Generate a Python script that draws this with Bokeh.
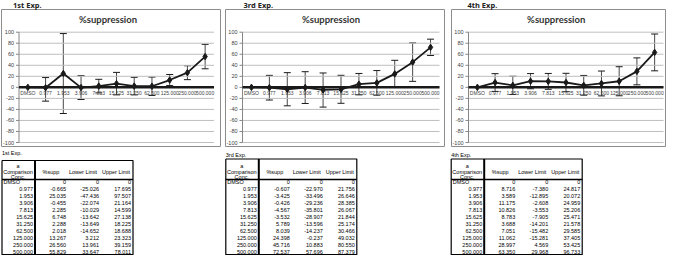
from bokeh.plotting import figure
from bokeh.models import ColumnDataSource, Range1d, Whisker, TeeHead
from bokeh.layouts import row, column
from bokeh.embed import file_html
from bokeh.resources import INLINE
from bokeh.core.properties import value

# ---------------- data ----------------
categories = ["DMSO", "0.977", "1.953", "3.906", "7.813", "15.625",
              "31.250", "62.500", "125.000", "250.000", "500.000"]
exp_names = ["1st Exp.", "3rd Exp.", "4th Exp."]
chart_title = "%suppression"
y_ticks = [-100, -80, -60, -40, -20, 0, 20, 40, 60, 80, 100]
table_col_headers = ["%supp", "Lower Limit", "Upper Limit"]
conc_header_lines = ["a", "Comparison", "Conc."]

supp_1st = [0, -0.665, 25.035, -0.455, 2.285, 6.748, 2.288, 2.018, 13.267, 26.560, 55.829]
lower_1st = [0, -25.026, -47.436, -22.074, -10.029, -13.642, -13.649, -14.652, 3.212, 13.961, 33.647]
upper_1st = [0, 17.695, 97.507, 21.164, 14.599, 27.138, 18.225, 18.688, 23.323, 39.159, 78.011]

supp_3rd = [0, -0.607, -3.425, -0.426, -4.567, -3.532, 5.789, 8.039, 24.398, 45.716, 72.537]
lower_3rd = [0, -22.970, -33.496, -29.236, -35.801, -28.907, -13.596, -14.237, -0.237, 10.883, 57.696]
upper_3rd = [0, 21.756, 26.646, 28.385, 26.067, 21.844, 25.174, 30.466, 49.032, 80.550, 87.379]

supp_4th = [0, 8.716, 3.589, 11.175, 10.826, 8.783, 3.688, 7.051, 11.062, 28.997, 63.350]
lower_4th = [0, -7.380, -12.895, -2.608, -3.553, -7.905, -14.201, -15.482, -15.281, 4.569, 29.968]
upper_4th = [0, 24.817, 20.072, 24.959, 25.206, 25.471, 21.578, 29.585, 37.405, 53.425, 96.733]

# ---------------- chart layout (pixel geometry inside each chart figure) ----------------
CH_H = 148
BOX_TOP, BOX_BOT = 9, 146          # chart border box
PA_TOP, PA_BOT = 31.7, 142.0       # pixel rows of y = 100 and y = -100
TITLE_Y = 19
NAME_Y = 4
ink = "#1a1a1a"
grey_txt = "#404040"


def make_chart(name, supp, lower, upper, W, box_l, box_r, pa_l, pa_w, name_x, title_cx):
    n = len(categories)
    idx = list(range(n))
    s = pa_w / n                                   # pixels per category
    k = 200.0 / (PA_BOT - PA_TOP)                  # data units per pixel (y)

    def X(px):
        return -0.5 + (px - pa_l) / s

    def Y(py):
        return 100 - (py - PA_TOP) * k

    src = ColumnDataSource(dict(x=idx, y=supp, lower=lower, upper=upper))
    p = figure(width=W, height=CH_H, x_range=Range1d(X(0), X(W)),
               y_range=Range1d(Y(CH_H), Y(0)), x_axis_location=None, y_axis_location=None,
               min_border=0, output_backend="svg", toolbar_location=None,
               outline_line_color=None,
               background_fill_color="white", border_fill_color="white")
    p.extra_x_ranges = {"px": Range1d(0, W)}
    p.extra_y_ranges = {"px": Range1d(CH_H, 0)}
    p.grid.visible = False

    # chart border box
    p.quad(left=[box_l], right=[box_r], top=[BOX_TOP], bottom=[BOX_BOT],
           x_range_name="px", y_range_name="px",
           fill_color=None, line_color="#8c8c8c", line_width=1)

    # gridlines (with short outward tick at the value axis)
    nt = len(y_ticks)
    p.segment(x0=[-0.5] * nt, x1=[n - 0.5] * nt, y0=y_ticks, y1=y_ticks,
              line_color="#bfbfbf", line_width=1)
    p.segment(x0=[X(pa_l - 3)] * nt, x1=[-0.5] * nt, y0=y_ticks, y1=y_ticks,
              line_color="#868686", line_width=1)
    # value axis line
    p.segment(x0=[-0.5], x1=[-0.5], y0=[y_ticks[0]], y1=[y_ticks[-1]],
              line_color="#868686", line_width=1)
    # value axis labels
    p.text(x=[-0.5] * nt, y=y_ticks, text=[str(t) for t in y_ticks], x_offset=-5,
           text_align="right", text_baseline="middle", text_font=value("Liberation Sans"),
           text_font_size="5.5px", text_color=grey_txt)

    p.add_layout(Whisker(source=src, base="x", upper="upper", lower="lower",
                         line_color=ink, line_width=0.8,
                         upper_head=TeeHead(size=7, line_color=ink, line_width=1),
                         lower_head=TeeHead(size=7, line_color=ink, line_width=1)))

    # category axis crossing at 0
    p.segment(x0=[-0.5], x1=[n - 0.5], y0=[0], y1=[0], line_color=ink, line_width=2.5)
    p.text(x=idx, y=[0] * n, text=categories, y_offset=6, text_align="center",
           text_baseline="middle", text_font=value("Liberation Sans"),
           text_font_size="5px", text_color=grey_txt)

    p.line("x", "y", source=src, line_color=ink, line_width=1.8)
    p.scatter("x", "y", source=src, marker="diamond", size=6.5, fill_color=ink, line_color=ink)

    # chart title inside the box
    p.text(x=[title_cx], y=[TITLE_Y], text=[chart_title], text_align="center",
           x_range_name="px", y_range_name="px",
           text_baseline="middle", text_font=value("Lato"), text_font_size="9.5px",
           text_font_style="bold", text_color="#333333")
    # experiment label above the box
    p.text(x=[name_x], y=[NAME_Y], text=[name], text_align="left",
           x_range_name="px", y_range_name="px",
           text_baseline="middle", text_font=value("Noto Sans"), text_font_size="7.5px",
           text_font_style="bold", text_color="#222222")
    return p


# ---------------- table layout ----------------
TB_H = 107
ROW_STEP = 7.0
ROW0 = 33.0


def ty(fig_y):
    return (fig_y - ROW0) / ROW_STEP


def fmt(v):
    return "0" if v == 0 else f"{v:.3f}"


def make_table(name, supp, lower, upper, W, L, name_y, top_y):
    t = figure(width=W, height=TB_H, x_range=Range1d(0, W), y_range=Range1d(ty(TB_H), ty(0)),
               min_border=0, x_axis_location=None, y_axis_location=None,
               output_backend="svg", toolbar_location=None, outline_line_color=None,
               background_fill_color="white", border_fill_color="white")
    t.grid.visible = False
    font = value("Liberation Sans")
    fs = "5.5px"
    rows = list(range(len(categories)))
    kw = dict(text_font=font, text_font_size=fs, text_color="black", text_baseline="middle")

    t.text(x=[L + 1.5], y=rows[:1], text=categories[:1], text_align="left", **kw)
    t.text(x=[L + 31] * (len(rows) - 1), y=rows[1:], text=categories[1:], text_align="right", **kw)
    for col_right, vals in zip([L + 64, L + 97, L + 129], [supp, lower, upper]):
        t.text(x=[col_right] * len(vals), y=rows, text=[fmt(v) for v in vals],
               text_align="right", **kw)
    t.text(x=[L + 16] * 3, y=[ty(17), ty(23), ty(28)], text=conc_header_lines,
           text_align="center", **kw)
    t.text(x=[L + 49, L + 81, L + 114], y=[ty(23)] * 3, text=table_col_headers,
           text_align="center", **kw)
    t.text(x=[L], y=[ty(name_y)], text=[name], text_align="left", **kw)

    yt, yb, yh = ty(top_y), ty(106.2), ty(31)
    R = L + 131
    t.multi_line(xs=[[L, R, R, L, L]], ys=[[yt, yt, yb, yb, yt]], line_color="black", line_width=1.2)
    t.segment(x0=[L + 33], y0=[yt], x1=[L + 33], y1=[yb], line_color="black", line_width=2)
    t.segment(x0=[L], y0=[yh], x1=[R], y1=[yh], line_color="black", line_width=1.3)
    return t


ch1 = make_chart(exp_names[0], supp_1st, lower_1st, upper_1st, 222, 1, 220, 18.5, 195, 12.5, 107.5)
ch2 = make_chart(exp_names[1], supp_3rd, lower_3rd, upper_3rd, 224, 3, 222, 20, 197, 21, 108.5)
ch3 = make_chart(exp_names[2], supp_4th, lower_4th, upper_4th, 220, 5, 219, 22, 195, 21, 109.7)

tb1 = make_table(exp_names[0], supp_1st, lower_1st, upper_1st, 222, 1.5, 4, 12)
tb2 = make_table(exp_names[1], supp_3rd, lower_3rd, upper_3rd, 224, 3.3, 6, 10.5)
tb3 = make_table(exp_names[2], supp_4th, lower_4th, upper_4th, 220, 4.7, 6, 10.5)

layout = row(column(ch1, tb1), column(ch2, tb2), column(ch3, tb3))

with open("out.html", "w") as f:
    f.write(file_html(layout, INLINE))
